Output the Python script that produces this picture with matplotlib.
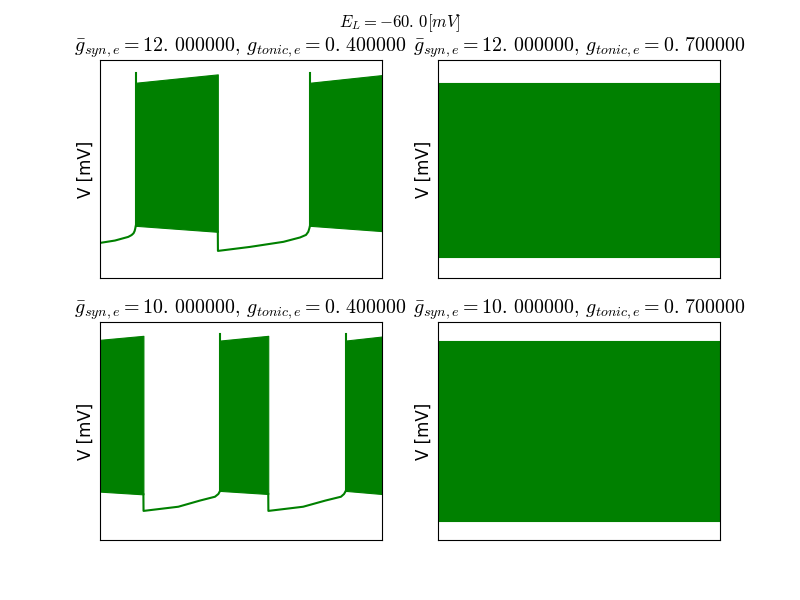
import matplotlib
matplotlib.use("Agg")
import matplotlib.pyplot as plt

plt.rcParams['mathtext.fontset'] = 'cm'
plt.rcParams['font.family'] = ['DejaVu Sans']

GREEN = '#008000'
T_END = 1000.0
YLIM = (-80, 40)

suptitle = r'$E_L = -60.\,0 [mV]$'
titles = [
    r'$\bar{g}_{syn,e} = 12.\,000000,\, g_{tonic,e} = 0.\,400000$',
    r'$\bar{g}_{syn,e} = 12.\,000000,\, g_{tonic,e} = 0.\,700000$',
    r'$\bar{g}_{syn,e} = 10.\,000000,\, g_{tonic,e} = 0.\,400000$',
    r'$\bar{g}_{syn,e} = 10.\,000000,\, g_{tonic,e} = 0.\,700000$',
]

# ---- panel 1: g_syn=12, g_tonic=0.4 (bursting) ----
p1_silent = [
    ([0, 53, 100, 112, 119, 123, 125, 127],
     [-60.6, -59.3, -57.3, -56.3, -55.3, -54.0, -52.7, -51.2]),
    ([418, 418.5, 532, 651, 710, 731, 739, 743, 745],
     [-54.5, -65.0, -62.8, -60.0, -57.6, -56.2, -54.5, -52.5, -51.2]),
]
# bursts: (t_start, t_end, upper_start, upper_end, lower_start, lower_end, first_spike_peak)
p1_bursts = [
    (127, 418, 27.5, 32.1, -51.2, -54.5, 33.0),
    (745, 1000, 27.5, 31.7, -51.2, -54.1, 33.0),
]

# ---- panel 2: g_syn=12, g_tonic=0.7 (tonic spiking) ----
p2_silent = []
p2_bursts = [(0, 1000, 27.2, 27.2, -68.3, -68.3, None)]

# ---- panel 3: g_syn=10, g_tonic=0.4 (bursting) ----
p3_silent = [
    ([154, 154.5, 278, 355, 408, 420, 426],
     [-54.9, -64.0, -61.7, -58.3, -56.2, -54.7, -53.0]),
    ([597, 597.5, 721, 800, 855, 866, 872],
     [-54.7, -64.0, -61.7, -58.3, -56.2, -54.7, -53.0]),
]
p3_bursts = [
    (0, 154, 30.1, 32.3, -53.4, -54.9, None),
    (426, 597, 29.7, 32.3, -53.0, -54.7, 33.4),
    (872, 1000, 29.7, 31.9, -53.0, -54.7, 33.4),
]

# ---- panel 4: g_syn=10, g_tonic=0.7 (tonic spiking) ----
p4_silent = []
p4_bursts = [(0, 1000, 29.2, 29.2, -69.4, -69.4, None)]

panels = [(p1_silent, p1_bursts), (p2_silent, p2_bursts),
          (p3_silent, p3_bursts), (p4_silent, p4_bursts)]

fig, axes = plt.subplots(2, 2, figsize=(8, 6), dpi=100)
fig.subplots_adjust(left=0.125, right=0.9, bottom=0.1, top=0.9, wspace=0.2, hspace=0.2)

for ax, title, (silent, bursts) in zip(axes.flat, titles, panels):
    for t, v in silent:
        ax.plot(t, v, color=GREEN, lw=1.5)
    for (t0, t1, u0, u1, l0, l1, peak) in bursts:
        ax.fill_between([t0, t1], [l0, l1], [u0, u1], color=GREEN, lw=0.8, edgecolor=GREEN)
        if peak is not None:
            ax.plot([t0, t0], [l0, peak], color=GREEN, lw=1.5)
    ax.set_xlim(0, T_END)
    ax.set_ylim(*YLIM)
    ax.set_xticks([])
    ax.set_yticks([])
    ax.set_ylabel('V [mV]', fontsize=12)
    ax.set_title(title, fontsize=14.4, pad=4)

fig.suptitle(suptitle, fontsize=12, y=0.98)
fig.savefig('out.png', dpi=100)
